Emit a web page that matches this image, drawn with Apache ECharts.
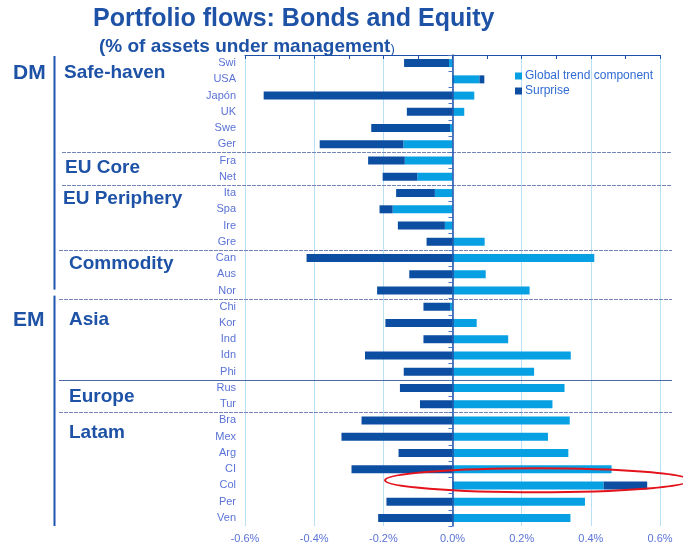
<!DOCTYPE html>
<html>
<head>
<meta charset="utf-8">
<script src="https://cdn.jsdelivr.net/npm/echarts@6/dist/echarts.min.js"></script>
<style>
  html, body { margin: 0; padding: 0; background: #fff; }
  #main { width: 683px; height: 544px; }
</style>
</head>
<body>
<div id="main"></div>
<script>
// categories, top to bottom
const countries = ['Swi', 'USA', 'Japón', 'UK', 'Swe', 'Ger', 'Fra', 'Net', 'Ita', 'Spa', 'Ire', 'Gre',
  'Can', 'Aus', 'Nor', 'Chi', 'Kor', 'Ind', 'Idn', 'Phi', 'Rus', 'Tur', 'Bra', 'Mex', 'Arg', 'CI', 'Col', 'Per', 'Ven'];

// % of assets under management
const globalTrend = [-0.01, 0.078, 0.063, 0.034, -0.007, -0.142, -0.138, -0.102, -0.051, -0.173, -0.022, 0.093,
  0.41, 0.096, 0.223, -0.007, 0.07, 0.161, 0.342, 0.236, 0.324, 0.289, 0.339, 0.276, 0.335, 0.46, 0.437, 0.383, 0.341];
const surprise = [-0.13, 0.014, -0.546, -0.132, -0.228, -0.242, -0.106, -0.1, -0.112, -0.038, -0.136, -0.075,
  -0.422, -0.125, -0.218, -0.077, -0.194, -0.084, -0.253, -0.141, -0.152, -0.094, -0.263, -0.321, -0.156, -0.292, 0.126, -0.191, -0.215];

// groups: label and first country of each block
const groupNames = ['Safe-haven', 'EU Core', 'EU Periphery', 'Commodity', 'Asia', 'Europe', 'Latam'];
const groupFirst = ['Swi', 'Fra', 'Ita', 'Can', 'Chi', 'Rus', 'Bra'];

const X_MIN = -0.6, X_MAX = 0.6, X_STEP = 0.2;

const LIGHT = '#06a0e3';
const DARK = '#0c4ea2';
const AXIS_BLUE = '#1c50a8';
const LABEL_BLUE = '#5a73d6';
const HEAD_BLUE = '#1d52a6';
const FONT = '"Liberation Sans", Arial, sans-serif';

const chart = echarts.init(document.getElementById('main'));

const option = {
  animation: false,
  backgroundColor: '#fff',
  textStyle: { fontFamily: FONT },
  title: {
    text: 'Portfolio flows: Bonds and Equity',
    left: 88,
    top: 2,
    textStyle: { color: HEAD_BLUE, fontSize: 25, fontWeight: 'bold', fontFamily: FONT },
  },
  legend: {
    orient: 'vertical',
    left: 510,
    top: 65,
    itemWidth: 7,
    itemHeight: 7,
    itemGap: 3,
    icon: 'rect',
    textStyle: { color: '#2f6cd4', fontSize: 12, fontFamily: FONT, padding: [0, 0, 0, -2] },
    data: ['Global trend component', 'Surprise'],
  },
  grid: { left: 245, right: 23, top: 55, bottom: 18 },
  xAxis: [
    {
      type: 'value',
      position: 'bottom',
      min: X_MIN,
      max: X_MAX,
      interval: X_STEP,
      axisLine: { show: false, onZero: false },
      axisTick: { show: false },
      axisLabel: {
        color: LABEL_BLUE,
        fontSize: 11,
        margin: 7,
        formatter: (v) => v.toFixed(1) + '%',
      },
      splitLine: { show: true, lineStyle: { color: '#b9e0f4', width: 1 } },
    },
    {
      type: 'value',
      position: 'top',
      min: X_MIN,
      max: X_MAX,
      interval: 0.1,
      axisLine: { show: true, onZero: false, lineStyle: { color: AXIS_BLUE, width: 1 } },
      axisTick: { show: true, inside: true, length: 4, lineStyle: { color: AXIS_BLUE } },
      axisLabel: { show: false },
      splitLine: { show: false },
    },
  ],
  yAxis: [
    {
      type: 'category',
      data: countries,
      inverse: true,
      position: 'left',
      axisLine: { show: false, onZero: false },
      axisTick: { show: false },
      axisLabel: { color: LABEL_BLUE, fontSize: 11, margin: 9 },
    },
    {
      // zero line with ticks
      type: 'category',
      data: countries,
      inverse: true,
      position: 'right',
      z: 10,
      axisLine: { show: true, onZero: true, lineStyle: { color: AXIS_BLUE, width: 1.5 } },
      axisTick: { show: true, inside: true, length: 4, lineStyle: { color: '#4d74c4' } },
      axisLabel: { show: false },
    },
  ],
  series: [
    {
      name: 'Global trend component',
      type: 'bar',
      stack: 'total',
      barWidth: 8,
      itemStyle: { color: LIGHT },
      data: globalTrend,
    },
    {
      name: 'Surprise',
      type: 'bar',
      stack: 'total',
      barWidth: 8,
      itemStyle: { color: DARK },
      data: surprise,
    },
  ],
};

chart.setOption(option);

// group dividers and side labels, placed from the category axis
const rowY = (name) => chart.convertToPixel({ yAxisIndex: 0 }, name);
const band = rowY(countries[1]) - rowY(countries[0]);
const topY = rowY(countries[0]) - band / 2;
const bottomY = rowY(countries[countries.length - 1]) + band / 2;
const emY = rowY('Chi') - band / 2;

const graphics = [];

// subtitle
graphics.push({
  type: 'text',
  left: 99,
  top: 37,
  style: {
    text: '{a|(% of assets under management}{b|)}',
    rich: {
      a: { font: 'bold 19px ' + FONT, fill: HEAD_BLUE },
      b: { font: '13px ' + FONT, fill: HEAD_BLUE, padding: [5, 0, 0, 0] },
    },
  },
});

// separators
const solidAt = ['Rus'];
groupFirst.slice(1).forEach((name) => {
  const y = Math.round(rowY(name) - band / 2) + 0.5;
  const left = (name === 'Fra' || name === 'Ita') ? 62 : 59;
  graphics.push({
    type: 'line',
    shape: { x1: left, y1: y, x2: 672, y2: y },
    style: {
      stroke: solidAt.includes(name) ? '#4f68a6' : '#7284b8',
      lineWidth: 1.2,
      lineDash: solidAt.includes(name) ? null : [4, 1],
    },
  });
});

// DM / EM brackets
graphics.push({
  type: 'line',
  shape: { x1: 54.5, y1: topY + 1, x2: 54.5, y2: emY - 9 },
  style: { stroke: '#1f55b0', lineWidth: 2 },
});
graphics.push({
  type: 'line',
  shape: { x1: 54.5, y1: emY - 3, x2: 54.5, y2: bottomY },
  style: { stroke: '#1f55b0', lineWidth: 2 },
});

const headText = (text, x, y, size) => ({
  type: 'text',
  z: 10,
  style: {
    text: text,
    x: x,
    y: y,
    font: 'bold ' + size + 'px ' + FONT,
    fill: HEAD_BLUE,
    verticalAlign: 'middle',
  },
});

graphics.push(headText('DM', 13, 73, 21));
graphics.push(headText('EM', 13, 320, 21));
graphics.push(headText('Safe-haven', 64, 73, 19));
graphics.push(headText('EU Core', 65, 168, 19));
graphics.push(headText('EU Periphery', 63, 199, 19));
graphics.push(headText('Commodity', 69, 264, 19));
graphics.push(headText('Asia', 69, 320, 19));
graphics.push(headText('Europe', 69, 397, 19));
graphics.push(headText('Latam', 69, 433, 19));

// red highlight around CI / Col
const ciY = rowY('CI');
const colY = rowY('Col');
graphics.push({
  type: 'ellipse',
  z: 20,
  shape: { cx: 537, cy: (ciY + colY) / 2 + 3, rx: 152, ry: 12 },
  style: { fill: 'none', stroke: '#e3121b', lineWidth: 2 },
});

chart.setOption({ graphic: graphics });
</script>
</body>
</html>
